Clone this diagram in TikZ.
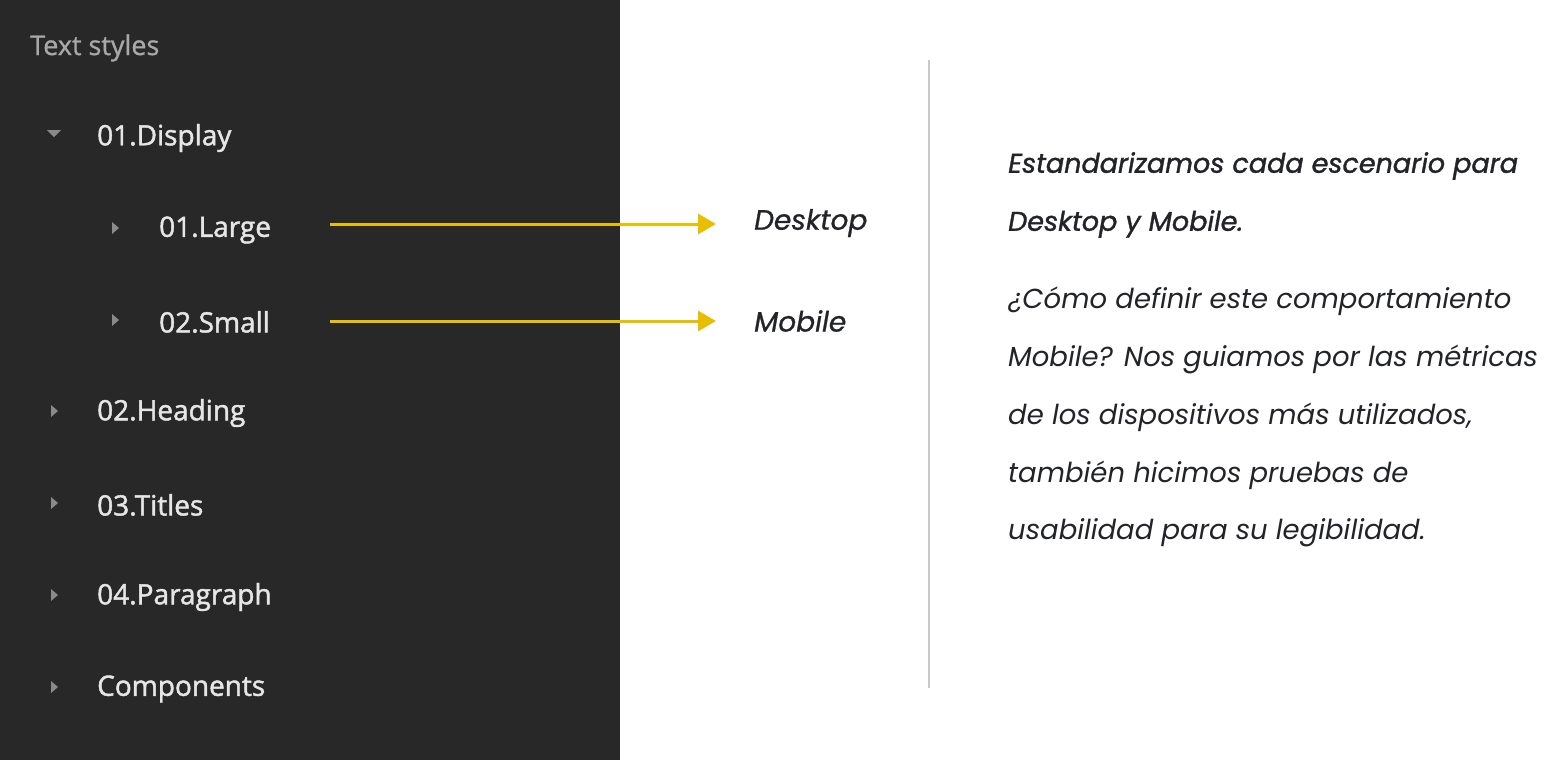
\documentclass[tikz,border=0pt]{standalone}
\usepackage{fontspec}
\setmainfont{Poppins}
\newfontfamily\panelfont[FakeBold=1.6]{Open Sans}
\newfontfamily\headfont[FakeBold=1.0]{Open Sans}
\definecolor{panelbg}{HTML}{282828}
\definecolor{paneltxt}{HTML}{E6E6E6}
\definecolor{headtxt}{HTML}{A8A8A8}
\definecolor{tri}{HTML}{8A8A8A}
\definecolor{arr}{HTML}{E8BE00}
\definecolor{ink}{HTML}{222428}
\definecolor{rule}{HTML}{C8C8C8}
\usetikzlibrary{arrows.meta}
\begin{document}
\begin{tikzpicture}[x=1pt,y=-1pt,
  item/.style={anchor=west,inner sep=0,font=\panelfont\fontsize{28}{32}\selectfont,text=paneltxt},
  rtext/.style={anchor=west,inner sep=0,font=\itshape\fontsize{27.5}{30}\selectfont,text=ink},
  semi/.style={font=\itshape\fontsize{27}{30}\selectfont\addfontfeatures{FakeBold=1.3}},
  lab/.style={anchor=west,inner sep=0,font=\itshape\fontsize{28}{30}\selectfont\addfontfeatures{FakeBold=0.8},text=ink},
  conn/.style={draw=arr,line width=3pt,-{Triangle[length=18pt,width=20pt]}}]
\useasboundingbox (0,0) rectangle (1552,760);
\fill[white] (0,0) rectangle (1552,760);
\fill[panelbg] (0,0) rectangle (620,760);
\node[item,text=headtxt,font=\headfont\fontsize{27}{32}\selectfont] (hd) at (30,48) {Text styles};
\fill[tri] (47,130) -- (61,130) -- (54,137) -- cycle;
\node[item] (d) at (97,138) {01.Display};
\foreach \y in {228,320} \fill[tri] (112,\y-6) -- (112,\y+6) -- (119,\y) -- cycle;
\node[item] (l) at (159,230) {01.Large};
\node[item] (s) at (159,322) {02.Small};
\foreach \y in {411,503,595,687} \fill[tri] (51,\y-6) -- (51,\y+6) -- (58,\y) -- cycle;
\node[item] (h) at (97,413) {02.Heading};
\node[item] (t) at (97,505) {03.Titles};
\node[item] (p) at (97,597) {04.Paragraph};
\node[item] (c) at (97,689) {Components};
\coordinate (la) at (330,224);
\coordinate (sa) at (330,321);
\node[lab] (dk) at (754,223) {Desktop};
\node[lab] (mb) at (754,321) {Mobile};
\draw[conn] (la) -- (716,224);
\draw[conn] (sa) -- (716,321);
\draw[rule,line width=1.5pt] (929,60) -- (929,688);
\node[rtext,semi] (r1) at (1008,166) {Estandarizamos cada escenario para};
\node[rtext,semi] (r2) at (1008,224) {Desktop y Mobile.};
\node[rtext] (r3) at (1008,301) {¿Cómo definir este comportamiento};
\node[rtext] (r4) at (1008,359) {Mobile? Nos guiamos por las métricas};
\node[rtext] (r5) at (1008,417) {de los dispositivos más utilizados,};
\node[rtext] (r6) at (1008,475) {también hicimos pruebas de};
\node[rtext] (r7) at (1008,533) {usabilidad para su legibilidad.};
\end{tikzpicture}
\end{document}
